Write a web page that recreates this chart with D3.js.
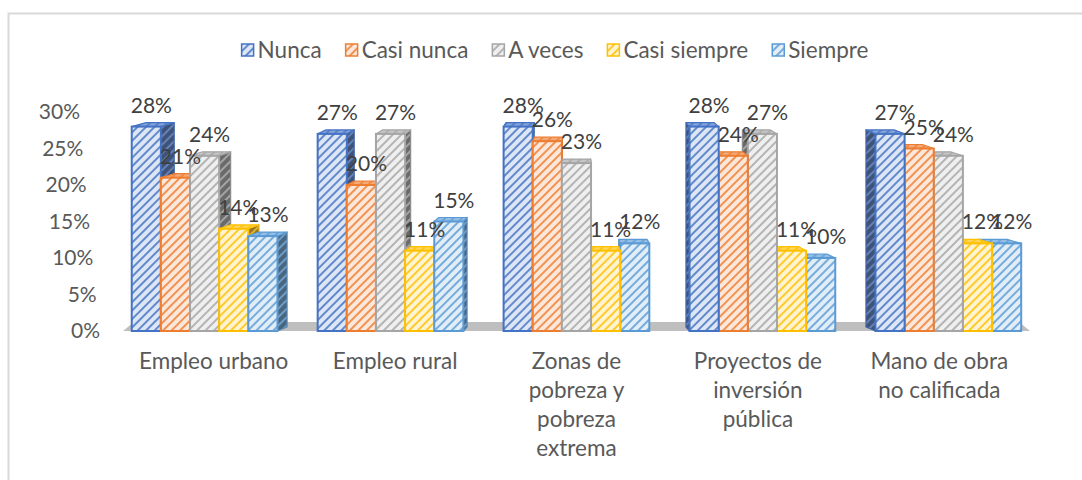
<!DOCTYPE html>
<html>
<head>
<meta charset="utf-8">
<script src="https://cdn.jsdelivr.net/npm/d3@7/dist/d3.min.js"></script>
<style>
  html, body { margin: 0; padding: 0; background: #fff; }
  svg { display: block; font-family: Lato, "Liberation Sans", sans-serif; }
</style>
</head>
<body>
<svg id="chart" width="1082" height="480"></svg>
<script>
// ---- data ----
const categories = ["Empleo urbano", "Empleo rural", "Zonas de pobreza y pobreza extrema", "Proyectos de inversión pública", "Mano de obra no calificada"];
const categoryTickLines = [["Empleo urbano"], ["Empleo rural"], ["Zonas de", "pobreza y", "pobreza", "extrema"], ["Proyectos de", "inversión", "pública"], ["Mano de obra", "no calificada"]];
const seriesNames = ["Nunca", "Casi nunca", "A veces", "Casi siempre", "Siempre"];
const nunca = [0.28, 0.27, 0.28, 0.28, 0.27];
const casiNunca = [0.21, 0.20, 0.26, 0.24, 0.25];
const aVeces = [0.24, 0.27, 0.23, 0.27, 0.24];
const casiSiempre = [0.14, 0.11, 0.11, 0.11, 0.12];
const siempre = [0.13, 0.15, 0.12, 0.10, 0.12];
const yTickValues = [0, 0.05, 0.10, 0.15, 0.20, 0.25, 0.30];
const seriesColors = ["#4472C4", "#ED7D31", "#A5A5A5", "#FFC000", "#5B9BD5"];

const seriesValues = [nunca, casiNunca, aVeces, casiSiempre, siempre];

const svg = d3.select("#chart");

// outer chart border
svg.append("rect").attr("x", 8.5).attr("y", 13.5).attr("width", 1100).attr("height", 500)
  .attr("fill", "none").attr("stroke", "#d9d9d9").attr("stroke-width", 2);

// scales
const x0 = d3.scaleBand().domain(categories).range([123, 1030]).paddingInner(0).paddingOuter(0);
const x1 = d3.scaleBand().domain(seriesNames).range([0, x0.bandwidth()]).paddingInner(0).paddingOuter(0.69);
const y = d3.scaleLinear().domain([0, 0.30]).range([331, 112]);
const yLabelX = d3.scaleLinear().domain([0.30, 0]).range([80, 100]);

// perspective settings
const vx = 578, kx = 0.032, barDy = -4, floorDy = -9, floorK = 0.024, spread = 1.025;
const dxAt = (x, k) => (vx - x) * k;
const persp = x => vx + (x - vx) * spread;

// patterns
const defs = svg.append("defs");
function makePattern(id, bg, stripe, sw) {
  const p = defs.append("pattern").attr("id", id).attr("patternUnits", "userSpaceOnUse")
    .attr("width", 6).attr("height", 6).attr("patternTransform", "rotate(45)");
  p.append("rect").attr("width", 6).attr("height", 6).attr("fill", bg);
  p.append("line").attr("x1", 1).attr("y1", 0).attr("x2", 1).attr("y2", 6)
    .attr("stroke", stripe).attr("stroke-width", sw);
}
seriesColors.forEach((c, i) => {
  makePattern("front" + i, d3.interpolateRgb(c, "#ffffff")(0.82), c, 1.6);
  makePattern("side" + i, d3.interpolateRgb(c, "#3a3a3a")(0.55), d3.interpolateRgb(c, "#ffffff")(0.25), 1.4);
  makePattern("top" + i, d3.interpolateRgb(c, "#ffffff")(0.35), c, 1.4);
});

// legend
const legend = svg.append("g").attr("font-size", 22.5).attr("fill", "#595959");
let lx = 0;
seriesNames.forEach((s, i) => {
  const g = legend.append("g");
  g.append("rect").attr("x", 0).attr("y", -6).attr("width", 12).attr("height", 12)
    .attr("fill", `url(#front${i})`).attr("stroke", seriesColors[i]).attr("stroke-width", 1.5);
  const t = g.append("text").attr("x", 16).attr("y", 8).text(s);
  const w = t.node().getComputedTextLength();
  g.attr("transform", `translate(${lx},50)`);
  lx += 16 + w + 24;
});
const legendW = lx - 24;
legend.attr("transform", `translate(${555 - legendW / 2},0)`);

// y axis labels
svg.append("g").selectAll("text").data(yTickValues).join("text")
  .attr("x", d => yLabelX(d)).attr("y", d => y(d) + 7)
  .attr("text-anchor", "end").attr("font-size", 21).attr("fill", "#595959")
  .text(d => d3.format(".0%")(d));

// floor
const fx0 = 123, fx1 = 1030, fy = 331;
svg.append("path")
  .attr("d", `M${fx0},${fy} L${fx1},${fy} L${fx1 + dxAt(fx1, floorK)},${fy + floorDy} L${fx0 + dxAt(fx0, floorK)},${fy + floorDy} Z`)
  .attr("fill", "#bfbfbf");

// bars
const bars = [];
categories.forEach((cat, ci) => {
  seriesNames.forEach((s, si) => {
    const v = seriesValues[si][ci];
    const xl = persp(x0(cat) + x1(s));
    const xr = persp(x0(cat) + x1(s) + x1.bandwidth());
    bars.push({ ci, si, v, xl, xr, yt: y(v), yb: y(0), cx: (xl + xr) / 2 });
  });
});
bars.sort((a, b) => Math.abs(b.cx - vx) - Math.abs(a.cx - vx));

const barG = svg.append("g");
bars.forEach(b => {
  const g = barG.append("g");
  const c = seriesColors[b.si];
  const dl = dxAt(b.xl, kx), dr = dxAt(b.xr, kx);
  let side;
  if (b.cx < vx) {
    side = `M${b.xr},${b.yt} L${b.xr + dr},${b.yt + barDy} L${b.xr + dr},${b.yb + barDy} L${b.xr},${b.yb} Z`;
  } else {
    side = `M${b.xl},${b.yt} L${b.xl + dl},${b.yt + barDy} L${b.xl + dl},${b.yb + barDy} L${b.xl},${b.yb} Z`;
  }
  g.append("path").attr("d", side).attr("fill", `url(#side${b.si})`)
    .attr("stroke", d3.interpolateRgb(c, "#333")(0.2)).attr("stroke-width", 1.2).attr("stroke-linejoin", "round");
  g.append("path")
    .attr("d", `M${b.xl},${b.yt} L${b.xr},${b.yt} L${b.xr + dr},${b.yt + barDy} L${b.xl + dl},${b.yt + barDy} Z`)
    .attr("fill", `url(#top${b.si})`).attr("stroke", c).attr("stroke-width", 1.2).attr("stroke-linejoin", "round");
  g.append("rect").attr("x", b.xl).attr("y", b.yt).attr("width", b.xr - b.xl).attr("height", b.yb - b.yt)
    .attr("fill", `url(#front${b.si})`).attr("stroke", c).attr("stroke-width", 2);
});

// data labels
const labelG = svg.append("g").attr("font-size", 21).attr("fill", "#404040").attr("text-anchor", "middle");
bars.slice().sort((a, b) => a.ci - b.ci || a.si - b.si).forEach(b => {
  labelG.append("text").attr("x", b.cx + 5).attr("y", b.yt - 14).text(d3.format(".0%")(b.v));
});

// category labels
const catG = svg.append("g").attr("font-size", 22.5).attr("fill", "#595959").attr("text-anchor", "middle");
categories.forEach((cat, ci) => {
  const cx = x0(cat) + x0.bandwidth() / 2;
  const t = catG.append("text").attr("x", cx).attr("y", 369);
  categoryTickLines[ci].forEach((line, li) => {
    t.append("tspan").attr("x", cx).attr("dy", li === 0 ? 0 : 29).text(line);
  });
});
</script>
</body>
</html>
